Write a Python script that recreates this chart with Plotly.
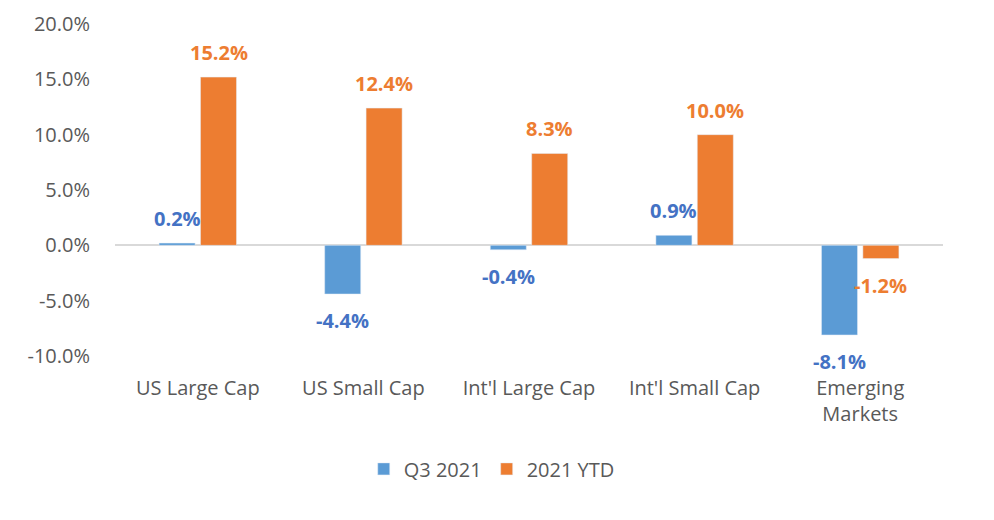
import plotly.graph_objects as go

categories = ["US Large Cap", "US Small Cap", "Int'l Large Cap", "Int'l Small Cap", "Emerging<br>Markets"]
q3_2021 = [0.2, -4.4, -0.4, 0.9, -8.1]
ytd_2021 = [15.2, 12.4, 8.3, 10.0, -1.2]
y_ticks = [-10, -5, 0, 5, 10, 15, 20]

font_family = "Open Sans, Liberation Sans, sans-serif"
BLUE_BAR, BLUE_TXT, ORANGE = "#5B9BD5", "#4472C4", "#ED7D31"

fig = go.Figure()
fig.add_trace(go.Bar(x=categories, y=q3_2021, name="Q3 2021", marker=dict(color=BLUE_BAR)))
fig.add_trace(go.Bar(x=categories, y=ytd_2021, name="2021 YTD", marker=dict(color=ORANGE)))

# data labels (placed at each bar's value, offset to the bar's slot in the group)
annotations = []
for values, color, offset in [(q3_2021, BLUE_TXT, -0.125), (ytd_2021, ORANGE, 0.125)]:
    for i, v in enumerate(values):
        annotations.append(dict(
            x=i + offset, y=v, xref="x", yref="y", text=f"{v:.1f}%", showarrow=False,
            yanchor="bottom" if v >= 0 else "top", yshift=9 if v >= 0 else -11,
            font=dict(color=color, size=20, family=font_family, weight="bold"),
        ))

fig.update_layout(
    width=994, height=520,
    margin=dict(l=107, r=59, t=16, b=172, autoexpand=False),
    paper_bgcolor="white", plot_bgcolor="white",
    barmode="group", bargap=0.5, bargroupgap=0.13,
    font=dict(family=font_family, color="#595959", size=20),
    showlegend=True,
    legend=dict(orientation="h", x=0.455, xanchor="center", y=-0.34, yanchor="middle",
                font=dict(size=20, color="#595959"), itemwidth=30),
    annotations=annotations,
)
fig.update_xaxes(showgrid=False, showline=False, zeroline=False, ticks="", automargin=False,
                 tickfont=dict(size=20, color="#595959"), ticklabelstandoff=18)
fig.update_yaxes(range=[-10, 20], tickvals=y_ticks, ticktext=[f"{v:.1f}%" for v in y_ticks],
                 showgrid=False, zeroline=True, zerolinecolor="#D9D9D9", zerolinewidth=1.5,
                 showline=False, ticks="", tickfont=dict(size=20, color="#595959"),
                 ticklabelstandoff=24, automargin=False)

fig.write_html("out.html")
